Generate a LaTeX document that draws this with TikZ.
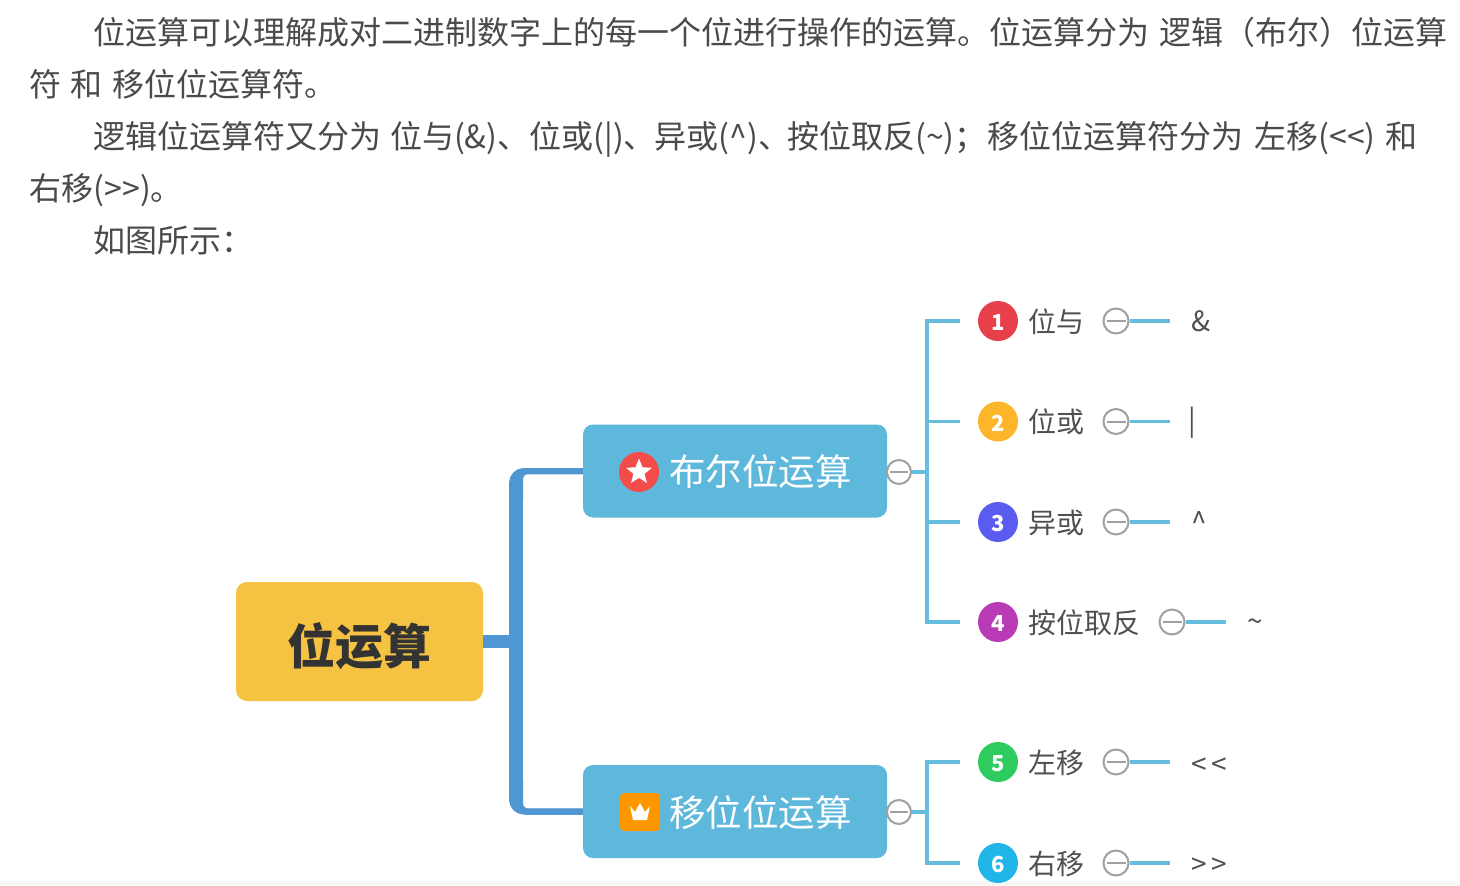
\documentclass[tikz,border=0pt]{standalone}
\usepackage{fontspec}
\setmainfont{Noto Sans CJK SC}
\usetikzlibrary{shapes.geometric,calc}
\definecolor{bodytxt}{HTML}{4A4A4A}
\definecolor{rootfill}{HTML}{F5C242}
\definecolor{trunkblue}{HTML}{4F97D3}
\definecolor{boxblue}{HTML}{5DB8DC}
\definecolor{twig}{HTML}{66BEDF}
\definecolor{ringgray}{HTML}{A0A0A0}
\definecolor{leaftxt}{HTML}{505050}
\definecolor{cA}{HTML}{E8404A}
\definecolor{cB}{HTML}{FDB52A}
\definecolor{cC}{HTML}{5A5CF0}
\definecolor{cD}{HTML}{B93AB5}
\definecolor{cE}{HTML}{2ECC5E}
\definecolor{cF}{HTML}{22B6E8}
\definecolor{iconred}{HTML}{F44B4B}
\definecolor{iconorange}{HTML}{FF9800}
\tikzset{
  para/.style={anchor=base west,inner sep=0pt,text=bodytxt,font=\fontsize{32}{36}\selectfont},
  branchbox/.style={draw=none,fill=boxblue,rounded corners=10pt,minimum width=304pt,minimum height=93pt,inner sep=0pt},
  branchtxt/.style={anchor=center,inner sep=0pt,text=white,font=\fontsize{36.5}{40}\selectfont},
  ringbig/.style={circle,draw=ringgray,line width=2pt,fill=white,minimum size=24pt,inner sep=0pt,path picture={\draw[ringgray,line width=2pt,shorten >=3pt,shorten <=3pt] (path picture bounding box.west)--(path picture bounding box.east);}},
  numdot/.style={circle,minimum size=40pt,inner sep=0pt,text height=19pt,text depth=0pt,text=white,font=\fontsize{22}{24}\selectfont\bfseries},
  leaflabel/.style={anchor=west,inner sep=0pt,text=leaftxt,font=\fontsize{28}{30}\selectfont},
  valuetxt/.style={anchor=center,inner sep=0pt,text=leaftxt,font=\fontsize{28}{30}\selectfont},
  twigline/.style={draw=twig,line width=3.4pt},
  thinarm/.style={draw=trunkblue,line width=6pt,rounded corners=12pt},
  midarm/.style={draw=trunkblue,line width=6pt,rounded corners=10pt},
  innerarm/.style={draw=trunkblue,line width=6pt,rounded corners=8pt},
}
\begin{document}
\begin{tikzpicture}[x=1pt,y=-1pt]
\useasboundingbox (0,0) rectangle (1460,886);
\fill[white] (0,0) rectangle (1460,886);
\fill[black!3] (0,881) rectangle (1460,886);
% paragraphs
\node[para] (p1) at (93.5,44) {位运算可以理解成对二进制数字上的每一个位进行操作的运算。位运算分为\hspace{10pt}逻辑（布尔）位运算};
\node[para] (p2) at (29.5,96) {符\hspace{9pt}和\hspace{10pt}移位位运算符。};
\node[para] (p3) at (93.5,148) {逻辑位运算符又分为\hspace{8.5pt}位与(\&)、位或(|)、\hspace{-1pt}异或(\^{})、\hspace{-3pt}按位取反(\~{})；\hspace{1pt}移位位运算符分为\hspace{11pt}左移({<}{<})\hspace{10pt}和};
\node[para] (p4) at (29.5,200) {右移({>}{>})。};
\node[para] (p5) at (93.5,252) {如图所示：};
% root and branches
\node[fill=rootfill,rounded corners=11pt,minimum width=247pt,minimum height=119pt,inner sep=0pt,text height=46pt,text depth=0pt,text=black!80,font=\fontsize{48}{50}\selectfont\bfseries] (root) at (359.5,641.5) {位运算};
\node[branchbox] (b1) at (735,471) {};
\node[branchbox] (b2) at (735,811.5) {};
\coordinate (tTop) at (516,486);
\coordinate (tBot) at (516,798);
\coordinate (tMid) at (523,641.5);
\coordinate (oTop) at (512,500);
\coordinate (oBot) at (512,780);
\coordinate (mTop) at (516,500);
\coordinate (mBot) at (516,780);
\coordinate (iTop) at (520,500);
\coordinate (iBot) at (520,780);
\draw[trunkblue,line width=14pt] (tTop)--(tBot);
\draw[thinarm] (b1.west) -| (oTop);
\draw[thinarm] (b2.west) -| (oBot);
\draw[midarm] (b1.west) -| (mTop);
\draw[midarm] (b2.west) -| (mBot);
\draw[innerarm] (b1.west) -| (iTop);
\draw[innerarm] (b2.west) -| (iBot);
\draw[trunkblue,line width=13pt] (root.east) -- (tMid);
% branch icons and text
\node[circle,fill=iconred,minimum size=40pt,inner sep=0pt] (i1) at (639,472) {};
\node[star,star points=5,star point ratio=2.3,fill=white,minimum size=27pt,inner sep=0pt] (s1) at (639,472) {};
\node[branchtxt] (t1) at (760.5,472) {布尔位运算};
\node[fill=iconorange,rounded corners=4pt,minimum width=40pt,minimum height=38pt,inner sep=0pt] (i2) at (640,812) {};
\fill[white] ($(i2)+(-10,-6)$) -- ($(i2)+(-5,0)$) -- ($(i2)+(0,-9)$) -- ($(i2)+(5,0)$) -- ($(i2)+(10,-6)$) -- ($(i2)+(7,8)$) -- ($(i2)+(-7,8)$) -- cycle;
\node[branchtxt] (t2) at (760.5,813) {移位位运算};
% branch collapse rings and twigs
\coordinate (j1) at (927,472);
\coordinate (j2) at (927,812);
\draw[twigline] (b1.east) ++(12,1) -- (j1);
\draw[twigline] (b2.east) ++(12,0.5) -- (j2);
\node[ringbig] (r1) at (899,472) {};
\node[ringbig] (r2) at (899,812) {};
% leaves
\newcommand{\leafrow}[9]{%
  \node[numdot,fill=#3] (d#1) at (998,#2) {#4};
  \node[leaflabel] (l#1) at (1028.5,#2+0.5) {#5};
  \node[ringbig,minimum size=25pt] (c#1) at (#6,#2) {};
  \coordinate (e#1) at ($(c#1.east)+(40,0)$);
  \draw[twigline] (c#1.east) -- (e#1);
  \node[valuetxt] (v#1) at (#8,#2+#9) {#7};
  \coordinate (a#1) at (960,#2);
}
\leafrow{1}{321}{cA}{1}{位与}{1116}{\&}{1201}{0.5}
\leafrow{2}{421.5}{cB}{2}{位或}{1116}{|}{1192}{1}
\leafrow{3}{522}{cC}{3}{异或}{1116}{\^{}}{1199}{0.5}
\leafrow{4}{622}{cD}{4}{按位取反}{1172}{\~{}}{1255}{3}
\leafrow{5}{762}{cE}{5}{左移}{1116}{{<}\,{<}}{1209}{4}
\leafrow{6}{863}{cF}{6}{右移}{1116}{{>}\,{>}}{1209}{3}
\draw[twigline] (a1) -| (j1) |- (a4);
\draw[twigline] (j1) |- (a2);
\draw[twigline] (j1) |- (a3);
\draw[twigline] (a5) -| (j2) |- (a6);
\end{tikzpicture}
\end{document}
